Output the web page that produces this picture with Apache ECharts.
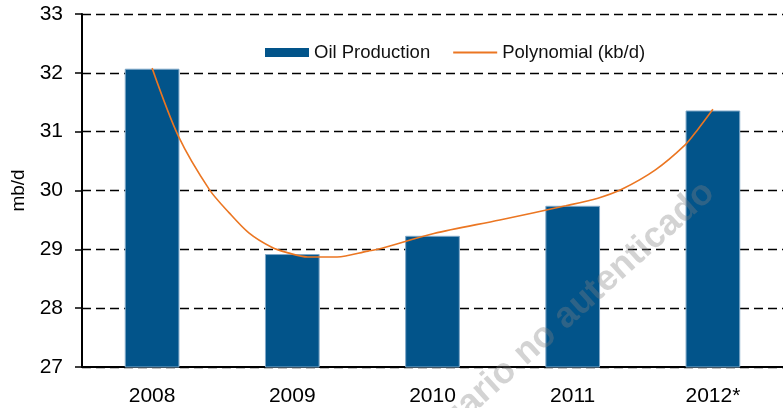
<!DOCTYPE html>
<html>
<head>
<meta charset="utf-8">
<script src="https://cdn.jsdelivr.net/npm/echarts@6/dist/echarts.min.js"></script>
<style>
  html, body { margin: 0; padding: 0; background: #fff; }
  #chart { width: 783px; height: 408px; }
</style>
</head>
<body>
<div id="chart"></div>
<script>
// categories and bar values (mb/d)
var years = ['2008', '2009', '2010', '2011', '2012*'];
var oilProduction = [32.07, 28.92, 29.23, 29.74, 31.36];

// trend line: x in category units (0..5), y in mb/d
var trendX = [0.50, 0.69, 0.91, 1.05, 1.19, 1.35, 1.47, 1.61, 1.82, 2.04, 2.11, 2.51, 2.98, 3.45, 3.68, 3.85, 4.09, 4.30, 4.39, 4.50];
var trendY = [32.08, 30.91, 30.01, 29.62, 29.28, 29.04, 28.94, 28.87, 28.87, 28.97, 29.00, 29.27, 29.50, 29.74, 29.87, 30.02, 30.35, 30.77, 31.03, 31.38];

var yTicks = [27, 28, 29, 30, 31, 32, 33];

var font = 'Liberation Sans, Arial, sans-serif';

var trendData = trendX.map(function (x, i) { return [x, trendY[i]]; });

var chart = echarts.init(document.getElementById('chart'));

var option = {
  animation: false,
  backgroundColor: '#fff',
  grid: { left: 82, right: -7, top: 14, bottom: 41 },

  legend: {
    left: 260,
    top: 38,
    itemWidth: 44,
    itemHeight: 9,
    itemGap: 22,
    textStyle: { fontFamily: font, fontSize: 18.5, color: '#111' },
    data: [
      { name: 'Oil Production', icon: 'rect', itemStyle: { borderWidth: 0 } },
      { name: 'Polynomial (kb/d)', itemStyle: { opacity: 0 } }
    ]
  },

  // watermark, drawn over the bars
  graphic: [{
    type: 'text',
    x: 400,
    y: 442,
    rotation: 42 * Math.PI / 180,
    z: 100,
    style: {
      text: 'Usuario no autenticado',
      font: 'bold 36px ' + font,
      fill: 'rgba(128,128,128,0.35)'
    }
  }],

  xAxis: [
    {
      type: 'category',
      data: years,
      axisLine: { lineStyle: { color: '#000', width: 2 } },
      axisTick: { length: 7, lineStyle: { color: '#000', width: 1.5 } },
      axisLabel: { color: '#000', fontFamily: font, fontSize: 21, margin: 19 }
    },
    {
      type: 'value',
      min: 0,
      max: 5,
      show: false
    }
  ],

  yAxis: {
    type: 'value',
    min: yTicks[0],
    max: yTicks[yTicks.length - 1],
    interval: 1,
    name: 'mb/d',
    nameLocation: 'middle',
    nameRotate: 90,
    nameGap: 51,
    nameTextStyle: { color: '#000', fontFamily: font, fontSize: 19 },
    axisLine: { show: true, lineStyle: { color: '#000', width: 2 } },
    axisTick: { show: true, length: 7, lineStyle: { color: '#000', width: 1.5 } },
    axisLabel: { color: '#000', fontFamily: font, fontSize: 21, margin: 19 },
    splitLine: { lineStyle: { color: '#000', width: 1.3, type: [9, 5] } }
  },

  series: [
    {
      name: 'Oil Production',
      type: 'bar',
      data: oilProduction,
      barWidth: '39%',
      itemStyle: { color: '#02548A', borderColor: '#7fa8c8', borderWidth: 1 },
      z: 3
    },
    {
      name: 'Polynomial (kb/d)',
      type: 'line',
      xAxisIndex: 1,
      data: trendData,
      smooth: 0.3,
      symbol: 'none',
      lineStyle: { color: '#EB7622', width: 1.6 },
      itemStyle: { color: '#EB7622' },
      z: 4
    }
  ]
};

chart.setOption(option);
</script>
</body>
</html>
